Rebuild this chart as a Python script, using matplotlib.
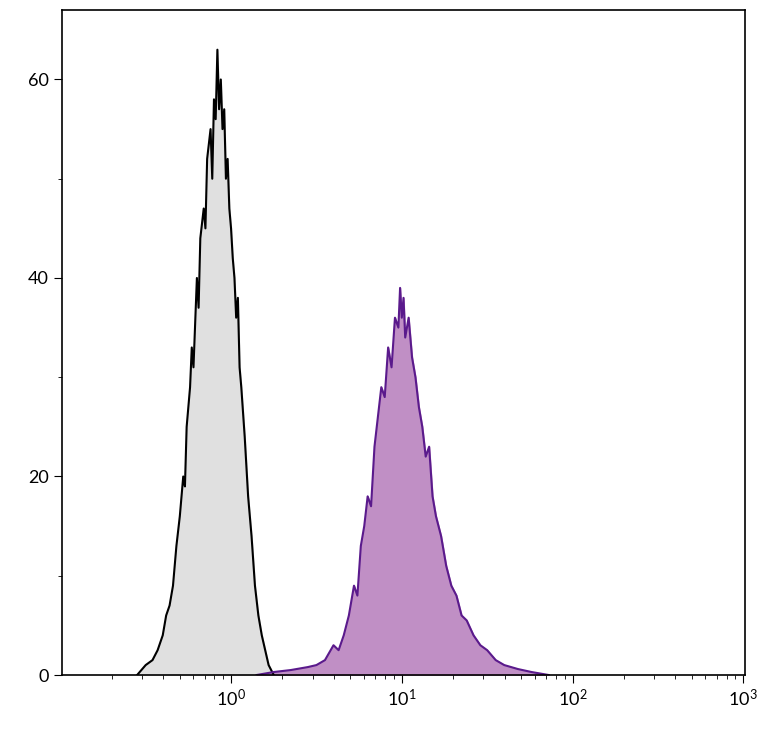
import numpy as np
import matplotlib.pyplot as plt
from matplotlib.ticker import LogLocator, MultipleLocator, NullFormatter

# isotype control (log10 fluorescence, count)
ctrl_logx = [-0.55, -0.50, -0.46, -0.43, -0.40, -0.38, -0.36, -0.34, -0.32, -0.30, -0.28, -0.27,
             -0.26, -0.24, -0.23, -0.22, -0.20, -0.19, -0.18, -0.16, -0.15, -0.14, -0.12, -0.11,
             -0.10, -0.09, -0.08, -0.07, -0.06, -0.05, -0.04, -0.03, -0.02, -0.01, 0.00, 0.01,
             0.02, 0.03, 0.04, 0.05, 0.06, 0.08, 0.09, 0.10, 0.12, 0.14, 0.16, 0.18, 0.20, 0.22, 0.25]
ctrl_cnt = [0, 1, 1.5, 2.5, 4, 6, 7, 9, 13, 16, 20, 19,
            25, 29, 33, 31, 40, 37, 44, 47, 45, 52, 55, 50,
            58, 56, 63, 57, 60, 55, 57, 50, 52, 47, 45, 42,
            40, 36, 38, 31, 29, 24, 21, 18, 14, 9, 6, 4, 2.5, 1, 0]

# stained sample
stain_logx = [0.15, 0.25, 0.35, 0.45, 0.50, 0.55, 0.60, 0.63, 0.66, 0.69, 0.72, 0.74, 0.76, 0.78,
              0.80, 0.82, 0.84, 0.86, 0.88, 0.90, 0.92, 0.94, 0.96, 0.98, 0.99, 1.00, 1.01, 1.02,
              1.04, 1.06, 1.08, 1.10, 1.12, 1.14, 1.16, 1.18, 1.20, 1.23, 1.26, 1.29, 1.32, 1.35,
              1.38, 1.42, 1.46, 1.50, 1.55, 1.60, 1.68, 1.76, 1.86]
stain_cnt = [0, 0.3, 0.5, 0.8, 1, 1.5, 3, 2.5, 4, 6, 9, 8, 13, 15,
             18, 17, 23, 26, 29, 28, 33, 31, 36, 35, 39, 36, 38, 34,
             36, 32, 30, 27, 25, 22, 23, 18, 16, 14, 11, 9, 8, 6,
             5.5, 4, 3, 2.5, 1.5, 1, 0.6, 0.3, 0]

plt.rcParams['font.family'] = ['Lato', 'DejaVu Sans']
fig = plt.figure(figsize=(7.68, 7.30), dpi=100)
ax = fig.add_axes([62/768, 55/730, 683/768, 665/730])

cx = 10 ** np.array(ctrl_logx)
sx = 10 ** np.array(stain_logx)
ax.fill_between(cx, ctrl_cnt, color='#e0e0e0')
ax.plot(cx, ctrl_cnt, color='black', lw=1.5)
ax.fill_between(sx, stain_cnt, color='#c08fc5')
ax.plot(sx, stain_cnt, color='#5a1a8c', lw=1.5)

ax.set_xscale('log')
ax.set_xlim(10 ** -0.99, 10 ** 3.01)
ax.set_ylim(0, 67)
ax.yaxis.set_major_locator(MultipleLocator(20))
ax.yaxis.set_minor_locator(MultipleLocator(10))
ax.xaxis.set_major_locator(LogLocator(base=10, numticks=10))
ax.xaxis.set_minor_locator(LogLocator(base=10, subs=np.arange(2, 10), numticks=20))
ax.xaxis.set_minor_formatter(NullFormatter())
ax.tick_params(which='major', length=6, labelsize=13)
ax.tick_params(which='minor', length=3)
for s in ax.spines.values():
    s.set_linewidth(1.2)

fig.savefig('out.png', dpi=100)
